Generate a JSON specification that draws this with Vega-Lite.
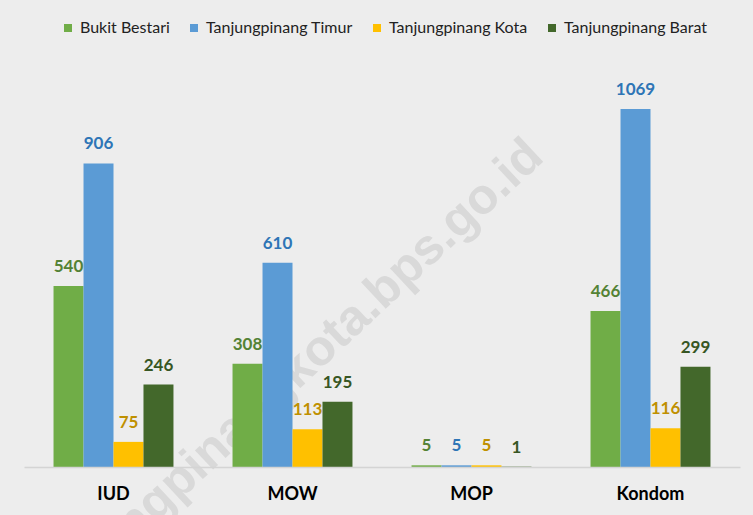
{
  "$schema": "https://vega.github.io/schema/vega-lite/v6.json",
  "width": 716,
  "height": 402,
  "autosize": {"type": "none"},
  "padding": {"left": 24, "top": 65, "right": 13, "bottom": 48},
  "background": "#EDEDED",
  "config": {"view": {"stroke": null}, "font": "Lato"},
  "data": {"values": [
      {"cat": "IUD", "series": "Bukit Bestari", "value": 540},
      {"cat": "IUD", "series": "Tanjungpinang Timur", "value": 906},
      {"cat": "IUD", "series": "Tanjungpinang Kota", "value": 75},
      {"cat": "IUD", "series": "Tanjungpinang Barat", "value": 246},
      {"cat": "MOW", "series": "Bukit Bestari", "value": 308},
      {"cat": "MOW", "series": "Tanjungpinang Timur", "value": 610},
      {"cat": "MOW", "series": "Tanjungpinang Kota", "value": 113},
      {"cat": "MOW", "series": "Tanjungpinang Barat", "value": 195},
      {"cat": "MOP", "series": "Bukit Bestari", "value": 5},
      {"cat": "MOP", "series": "Tanjungpinang Timur", "value": 5},
      {"cat": "MOP", "series": "Tanjungpinang Kota", "value": 5},
      {"cat": "MOP", "series": "Tanjungpinang Barat", "value": 1},
      {"cat": "Kondom", "series": "Bukit Bestari", "value": 466},
      {"cat": "Kondom", "series": "Tanjungpinang Timur", "value": 1069},
      {"cat": "Kondom", "series": "Tanjungpinang Kota", "value": 116},
      {"cat": "Kondom", "series": "Tanjungpinang Barat", "value": 299}
  ]},
  "encoding": {
    "x": {"field": "cat", "type": "nominal", "sort": ["IUD", "MOW", "MOP", "Kondom"],
          "scale": {"paddingInner": 0.33, "paddingOuter": 0.165},
          "axis": {"title": null, "labelAngle": 0, "labelFontSize": 18, "labelFontWeight": "bold", "labelColor": "#000000", "labelPadding": 18, "ticks": false, "domainColor": "#D4D4D4", "domainWidth": 1.5, "zindex": 1}},
    "xOffset": {"field": "series", "type": "nominal", "sort": ["Bukit Bestari", "Tanjungpinang Timur", "Tanjungpinang Kota", "Tanjungpinang Barat"], "scale": {"paddingInner": 0, "paddingOuter": 0}},
    "y": {"field": "value", "type": "quantitative", "scale": {"domain": [0, 1200]}, "axis": null}
  },
  "layer": [
    {
      "data": {"values": [{"cat": "MOW", "series": "Tanjungpinang Timur", "value": 233, "text": "tanjungpinangkota.bps.go.id"}]},
      "mark": {"type": "text", "angle": -43, "fontSize": 50, "font": "Liberation Sans", "fontWeight": "bold", "color": "#D9D9D9", "align": "center", "baseline": "middle", "dx": 11},
      "encoding": {
        "text": {"field": "text", "type": "nominal"}
      }
    },
    {
      "mark": {"type": "bar"},
      "encoding": {
        "color": {"field": "series", "type": "nominal",
                  "scale": {"domain": ["Bukit Bestari", "Tanjungpinang Timur", "Tanjungpinang Kota", "Tanjungpinang Barat"], "range": ["#70AD47", "#5B9BD5", "#FFC000", "#43682B"]},
                  "legend": {"title": null, "orient": "none", "direction": "horizontal", "legendX": 36, "legendY": -45, "symbolType": "square", "symbolSize": 64, "symbolStrokeWidth": 0, "labelFontSize": 16, "labelColor": "#222222", "labelOffset": 4, "columnPadding": 16}}
      }
    },
    {
      "mark": {"type": "text", "fontSize": 17, "fontWeight": "bold", "baseline": "bottom", "dy": -10},
      "encoding": {
        "text": {"field": "value", "type": "quantitative"},
        "fill": {"field": "series", "type": "nominal",
                  "scale": {"domain": ["Bukit Bestari", "Tanjungpinang Timur", "Tanjungpinang Kota", "Tanjungpinang Barat"], "range": ["#548235", "#2E75B6", "#BF9000", "#375623"]},
                  "legend": null}
      }
    }
  ]
}
